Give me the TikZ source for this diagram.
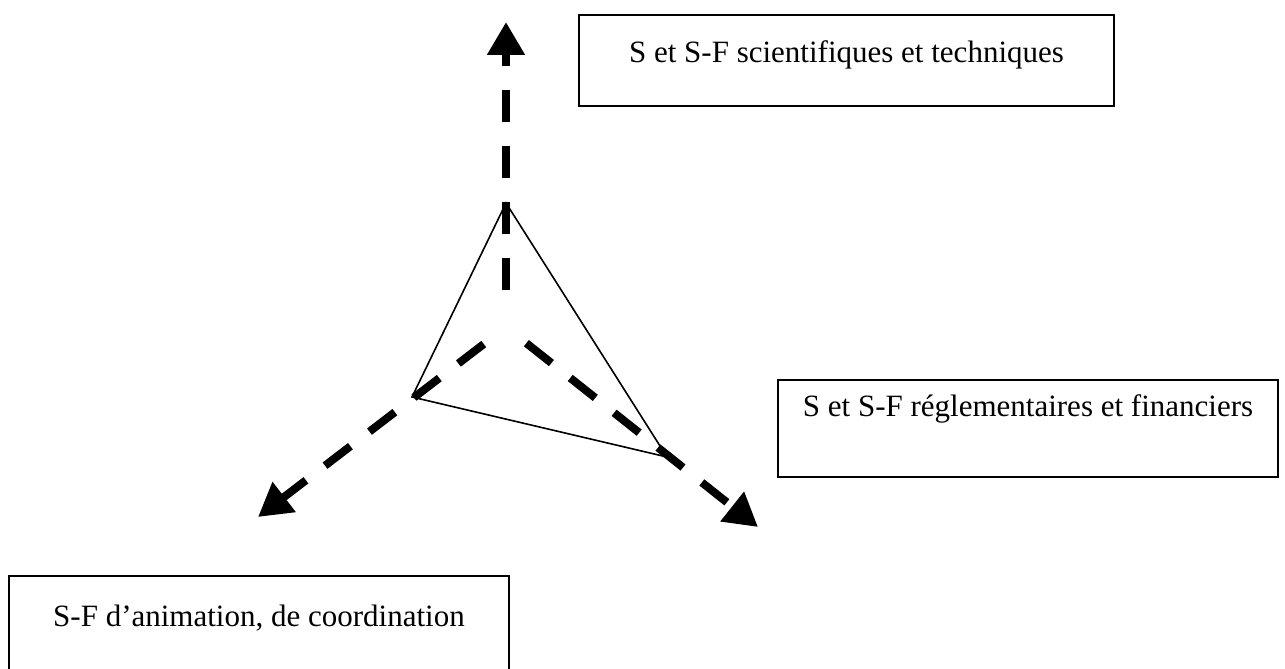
\documentclass[tikz,border=0pt]{standalone}
\usepackage{fontspec}
\setmainfont{Liberation Serif}
\usetikzlibrary{arrows.meta,positioning}

\begin{document}
\begin{tikzpicture}[
  x=1pt, y=-1pt,
  font=\fontsize{31}{36}\selectfont,
  box/.style={draw, line width=2pt, inner sep=0pt, anchor=north west},
  axis/.style={line width=8pt, dash pattern=on 32pt off 24pt, -{Triangle[length=33pt,width=36pt]}},
  edge/.style={line width=1.6pt, line join=miter}
]
\useasboundingbox (0,0) rectangle (1285,669);
\clip (0,0) rectangle (1285,669);

\node[box, minimum width=535pt, text height=48pt, text depth=43pt] (tech) at (578,14) {S et S-F scientifiques et techniques};
\node[box, minimum width=500pt, text height=36pt, text depth=61pt] (regl) at (777,379) {S et S-F réglementaires et financiers};
\node[box, minimum width=500pt, text height=50pt, text depth=80pt] (anim) at (8,575) {S-F d’animation, de coordination};

\coordinate (o) at (506,327);
\coordinate (up) at (506,22);
\coordinate (dl) at (258,517);
\coordinate (dr) at (758,527);

\coordinate (ta) at (506,203);
\coordinate (tb) at (412,397);
\coordinate (tc) at (667,457);
\draw[edge] (ta) -- (tb) -- (tc) -- cycle;

\draw[axis, shorten <=37pt] (o) -- (up);
\draw[axis, shorten <=28pt] (o) -- (dl);
\draw[axis, shorten <=26pt] (o) -- (dr);

\end{tikzpicture}
\end{document}
